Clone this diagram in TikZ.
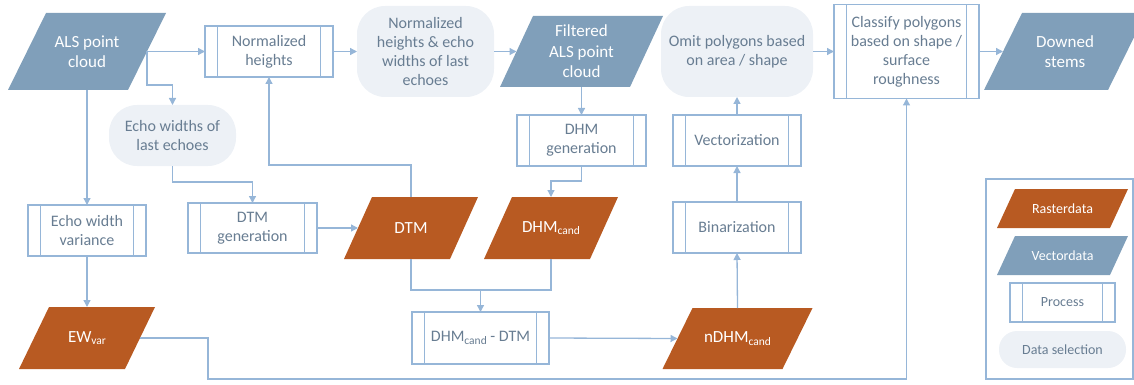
\documentclass[tikz,border=0pt]{standalone}
\usepackage{fontspec}
\setmainfont{Carlito}
\usetikzlibrary{arrows.meta,calc}
\definecolor{lineblue}{RGB}{150,182,216}
\definecolor{steel}{RGB}{128,159,186}
\definecolor{rust}{RGB}{184,90,34}
\definecolor{pillfill}{RGB}{237,241,246}
\definecolor{txtc}{RGB}{104,125,146}
\newcommand\sbs[1]{\raisebox{-2.5pt}{\fontsize{11.5}{12}\selectfont #1}}
\newcommand\legfont{\fontsize{14}{16}\selectfont}
\newcommand\paral[8]{%
  \fill[#7] ({#2-#4/2-#6/2},{#3+#5/2}) -- ({#2+#4/2-#6/2},{#3+#5/2}) -- ({#2+#4/2+#6/2},{#3-#5/2}) -- ({#2-#4/2+#6/2},{#3-#5/2}) -- cycle;
  \node[data,minimum width=#4pt,minimum height=#5pt] (#1) at (#2,#3) {#8};}
\tikzset{
  data/.style={inner sep=0pt,outer sep=0pt,align=center,text=white,font=\fontsize{17}{20.5}\selectfont},
  proc/.style={draw=lineblue,line width=1.2pt,fill=white,inner sep=0pt,outer sep=0pt,align=center,text=txtc,
    font=\fontsize{16}{19}\selectfont,
    path picture={\draw[lineblue,line width=1.2pt]
      ([xshift=12.5pt]path picture bounding box.north west) -- ([xshift=12.5pt]path picture bounding box.south west)
      ([xshift=-12.5pt]path picture bounding box.north east) -- ([xshift=-12.5pt]path picture bounding box.south east);}},
  pill/.style={fill=pillfill,inner sep=0pt,outer sep=0pt,align=center,text=txtc,font=\fontsize{16}{19}\selectfont},
  arr/.style={draw=lineblue,line width=1.3pt,-{Triangle[length=7pt,width=7pt]}},
  conn/.style={draw=lineblue,line width=1.3pt}
}
\begin{document}
\begin{tikzpicture}[x=1pt,y=-1pt]
\useasboundingbox (0,0) rectangle (1134,385);
% legend frame
\node[draw=lineblue,line width=1.2pt,minimum width=147pt,minimum height=200pt,inner sep=0pt] (legend) at (1059.5,279) {};
% data nodes
\paral{als}{87}{51.5}{120}{77}{38}{steel}{ALS point\\cloud}
\paral{filt}{581.5}{51.5}{130}{71}{33}{steel}{Filtered\\ALS point\\cloud}
\paral{down}{1065}{51.5}{124}{77}{38}{steel}{Downed\\stems}
\paral{dtm}{411}{228}{106}{62}{28}{rust}{DTM}
\paral{dhmc}{551}{228}{106}{62}{28}{rust}{DHM\sbs{cand}}
\paral{ndhm}{737.5}{338.5}{120}{61}{30}{rust}{nDHM\sbs{cand}}
\paral{ewvar}{87}{338}{106}{62}{30}{rust}{EW\sbs{var}}
\paral{lraster}{1062.5}{208.5}{113}{39}{18}{rust}{\legfont Rasterdata}
\paral{lvector}{1062.5}{255.5}{113}{39}{18}{steel}{\legfont Vectordata}
% processes
\node[proc,minimum width=128pt,minimum height=51pt] (normh) at (269,51.5) {Normalized\\heights};
\node[proc,minimum width=118pt,minimum height=51pt] (ewv) at (87,230.5) {Echo width\\variance};
\node[proc,minimum width=129pt,minimum height=50pt] (dtmgen) at (252.5,228) {DTM\\generation};
\node[proc,minimum width=129pt,minimum height=51pt] (dhmgen) at (581.5,140.5) {DHM\\generation};
\node[proc,minimum width=137pt,minimum height=52pt] (diff) at (480.5,338) {DHM\sbs{cand} - DTM};
\node[proc,minimum width=128pt,minimum height=51pt] (vect) at (737,140.5) {Vectorization};
\node[proc,minimum width=128pt,minimum height=51pt] (bin) at (737,227.5) {Binarization};
\node[proc,minimum width=145pt,minimum height=94pt] (classify) at (906.5,51.5) {Classify polygons\\based on shape /\\surface\\roughness};
\node[proc,minimum width=105pt,minimum height=39pt,font=\legfont] (lproc) at (1062.5,302.5) {Process};
% data selections
\node[pill,rounded corners=28pt,minimum width=127pt,minimum height=61pt] (echowl) at (172.5,135.5) {Echo widths of\\last echoes};
\node[pill,rounded corners=28pt,minimum width=137pt,minimum height=91pt] (nhe) at (425.5,51.5) {Normalized\\heights \& echo\\widths of last\\echoes};
\node[pill,rounded corners=28pt,minimum width=152pt,minimum height=91pt] (omit) at (737,51.5) {Omit polygons based\\on area / shape};
\node[pill,rounded corners=18pt,minimum width=127pt,minimum height=37pt,font=\legfont] (lsel) at (1062.5,349.5) {Data selection};
% connectors
\draw[arr] (als.east) -- (normh.west);
\draw[arr] (als.east) -- ++(0,33.5) -| (echowl.north);
\draw[arr] (als.south) -- (ewv.north);
\draw[arr] (ewv.south) -- (ewvar.north);
\draw[arr] (echowl.south) -- ++(0,16) -| (dtmgen.north);
\draw[arr] (dtmgen.east) -- (dtm.west);
\draw[arr] (dtm.north) -- ++(0,-32) -| (normh.south);
\draw[arr] (normh.east) -- (nhe.west);
\draw[arr] (nhe.east) -- (filt.west);
\draw[arr] (filt.south) -- (dhmgen.north);
\draw[arr] (dhmgen.south) -- ++(0,15) -| (dhmc.north);
\coordinate (jn) at ($(dtm.south)+(0,31)$);
\draw[conn] (dtm.south) -- (jn) -| (dhmc.south);
\draw[arr] (jn -| diff.north) -- (diff.north);
\draw[arr] (diff.east) -- (ndhm.west);
\draw[arr] (ndhm.north) -- (bin.south);
\draw[arr] (bin.north) -- (vect.south);
\draw[arr] (vect.north) -- (omit.south);
\draw[arr] (omit.east) -- (classify.west);
\draw[arr] (classify.east) -- (down.west);
\coordinate (ew1) at (208,379);
\draw[arr] (ewvar.east) -| (ew1) -| (classify.south);
\end{tikzpicture}
\end{document}
